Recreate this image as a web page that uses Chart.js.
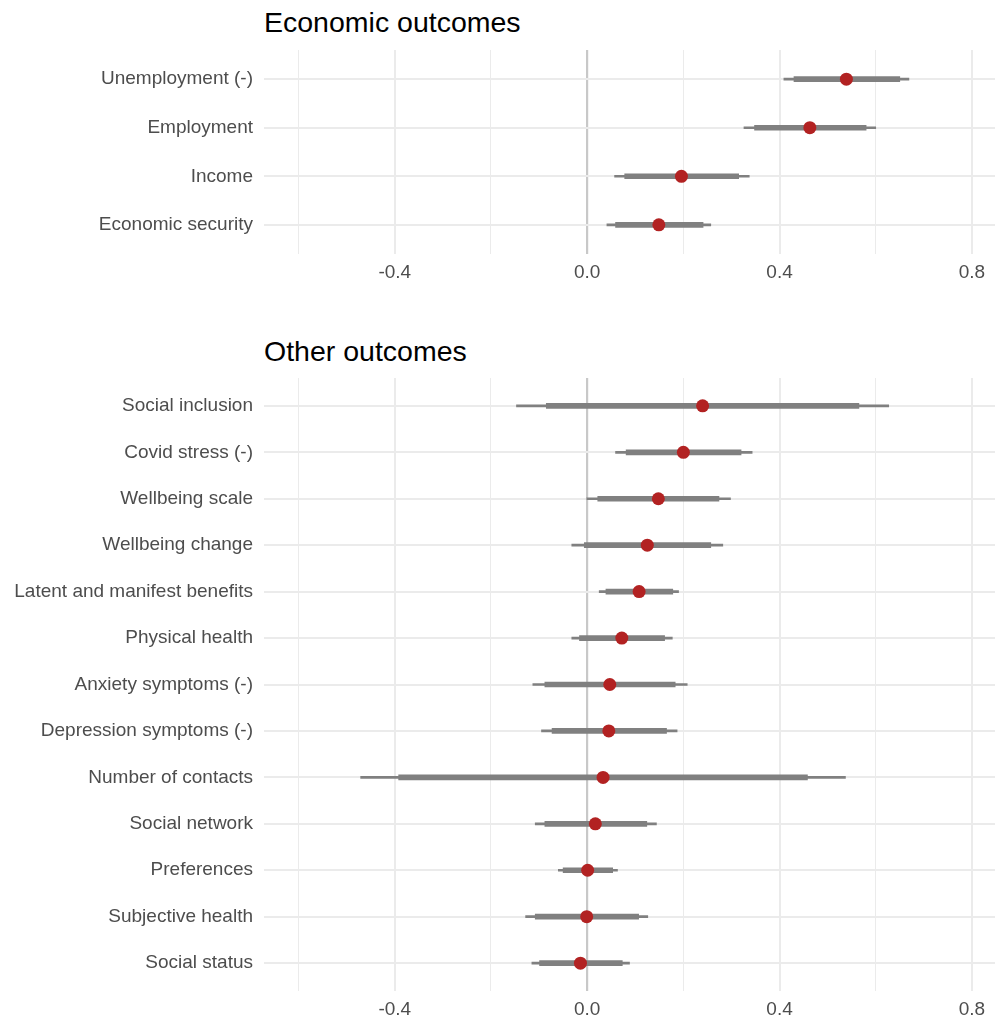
<!DOCTYPE html>
<html>
<head>
<meta charset="utf-8">
<script src="https://cdn.jsdelivr.net/npm/chart.js@4/dist/chart.umd.min.js"></script>
<style>
    body { margin: 0; background: #fff; font-family: "Liberation Sans", Arial, sans-serif; overflow: hidden; }
    #wrap { position: relative; width: 995px; height: 1021px; }
    .title { position: absolute; left: 264px; font-size: 28.5px; color: #000; line-height: 1; }
    .panel { position: absolute; left: 0; width: 995px; }
</style>
</head>
<body>
<div id="wrap">
    <div class="title" style="top: 8px;">Economic outcomes</div>
    <div class="panel" style="top: 40px; height: 250px;"><canvas id="chartEconomic"></canvas></div>
    <div class="title" style="top: 337px;">Other outcomes</div>
    <div class="panel" style="top: 368px; height: 653px;"><canvas id="chartOther"></canvas></div>
</div>
<script>
// Economic outcomes (top to bottom)
const econLabels = ["Unemployment (-)", "Employment", "Income", "Economic security"];
const econEst = [0.539, 0.463, 0.196, 0.149];
const econLoOuter = [0.409, 0.326, 0.057, 0.041];
const econHiOuter = [0.669, 0.600, 0.337, 0.257];
const econLoInner = [0.430, 0.348, 0.078, 0.059];
const econHiInner = [0.650, 0.580, 0.315, 0.241];

// Other outcomes (top to bottom)
const otherLabels = ["Social inclusion", "Covid stress (-)", "Wellbeing scale", "Wellbeing change",
    "Latent and manifest benefits", "Physical health", "Anxiety symptoms (-)", "Depression symptoms (-)",
    "Number of contacts", "Social network", "Preferences", "Subjective health", "Social status"];
const otherEst = [0.240, 0.200, 0.148, 0.125, 0.108, 0.072, 0.047, 0.045, 0.033, 0.017, 0.001, -0.001, -0.014];
const otherLoOuter = [-0.147, 0.059, -0.001, -0.032, 0.025, -0.032, -0.113, -0.095, -0.471, -0.108, -0.060, -0.128, -0.115];
const otherHiOuter = [0.627, 0.343, 0.298, 0.282, 0.190, 0.177, 0.208, 0.187, 0.537, 0.144, 0.063, 0.126, 0.088];
const otherLoInner = [-0.085, 0.081, 0.022, -0.006, 0.039, -0.016, -0.088, -0.073, -0.392, -0.088, -0.050, -0.108, -0.099];
const otherHiInner = [0.565, 0.320, 0.274, 0.257, 0.178, 0.161, 0.183, 0.165, 0.458, 0.124, 0.053, 0.107, 0.073];

// x axis
const xTickLabels = [-0.4, 0.0, 0.4, 0.8];
const xGridValues = [-0.6, -0.4, -0.2, 0.0, 0.2, 0.4, 0.6, 0.8];

function makeForest(canvasId, labels, est, loOuter, hiOuter, loInner, hiInner, padTop, axisHeight) {
    const ctx = document.getElementById(canvasId);
    if (!ctx) return;

    const n = labels.length;

    return new Chart(ctx, {
        type: "bar",
        data: {
            datasets: [
                {
                    data: labels.map((_, i) => ({ x: [loOuter[i], hiOuter[i]], y: i })),
                    backgroundColor: "#808080",
                    barThickness: 2,
                    grouped: false,
                    order: 3
                },
                {
                    data: labels.map((_, i) => ({ x: [loInner[i], hiInner[i]], y: i })),
                    backgroundColor: "#808080",
                    barThickness: 5,
                    grouped: false,
                    order: 2
                },
                {
                    type: "line",
                    data: labels.map((_, i) => ({ x: est[i], y: i })),
                    showLine: false,
                    pointRadius: 6.5,
                    pointBackgroundColor: "#b22222",
                    pointBorderWidth: 0,
                    order: 1
                }
            ]
        },
        options: {
            indexAxis: "y",
            responsive: true,
            maintainAspectRatio: false,
            animation: false,
            layout: { autoPadding: false, padding: { top: padTop, right: 0, left: 0, bottom: 0 } },
            plugins: { legend: { display: false }, tooltip: { enabled: false } },
            scales: {
                x: {
                    type: "linear",
                    min: -0.672,
                    max: 0.848,
                    afterBuildTicks: s => { s.ticks = xGridValues.map(v => ({ value: v })); },
                    afterFit: s => {
                        s.height = axisHeight;
                        s.paddingLeft = 0;
                        s.paddingRight = 0;
                    },
                    ticks: {
                        autoSkip: false,
                        maxRotation: 0,
                        padding: 7,
                        color: "#4d4d4d",
                        font: { family: "Liberation Sans", size: 19 },
                        callback: v => xTickLabels.some(t => Math.abs(t - v) < 1e-9) ? v.toFixed(1) : ""
                    },
                    grid: {
                        drawTicks: false,
                        color: c => Math.abs(c.tick.value) < 1e-9 ? "#c8c8c8" : "#ebebeb",
                        lineWidth: c => {
                            const v = c.tick.value;
                            if (Math.abs(v) < 1e-9) return 2.2;
                            return xTickLabels.some(t => Math.abs(t - v) < 1e-9) ? 2 : 1;
                        }
                    },
                    border: { display: false }
                },
                y: {
                    type: "linear",
                    reverse: true,
                    offset: false,
                    min: -0.6,
                    max: n - 1 + 0.6,
                    afterBuildTicks: s => { s.ticks = labels.map((_, i) => ({ value: i })); },
                    afterFit: s => {
                        s.width = 264;
                        s.paddingTop = 0;
                        s.paddingBottom = 0;
                    },
                    ticks: {
                        autoSkip: false,
                        padding: 11,
                        color: "#4d4d4d",
                        font: { family: "Liberation Sans", size: 19 },
                        callback: v => labels[v]
                    },
                    grid: { drawTicks: false, offset: false, color: "#ebebeb", lineWidth: 2 },
                    border: { display: false }
                }
            }
        }
    });
}

document.addEventListener("DOMContentLoaded", () => {
    makeForest("chartEconomic", econLabels, econEst, econLoOuter, econHiOuter, econLoInner, econHiInner, 10, 36);
    makeForest("chartOther", otherLabels, otherEst, otherLoOuter, otherHiOuter, otherLoInner, otherHiInner, 10, 30);
});
</script>
</body>
</html>
